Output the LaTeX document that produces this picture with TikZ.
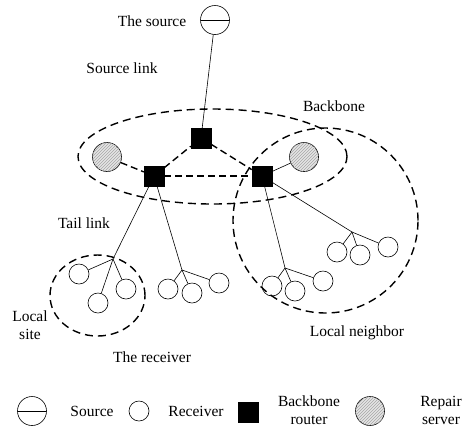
\documentclass[tikz,border=0pt]{standalone}
\usepackage{fontspec}
\setmainfont{Liberation Serif}
\usetikzlibrary{patterns}
\begin{document}
\begin{tikzpicture}[x=1pt,y=-1pt,
  every node/.style={font=\fontsize{15.5}{18}\selectfont},
  recv/.style={draw,circle,inner sep=0,minimum size=20pt,line width=0.6pt},
  srcnode/.style={draw,circle,inner sep=0,minimum size=29pt,line width=0.6pt,
    path picture={\draw[line width=0.6pt] (path picture bounding box.west) -- (path picture bounding box.east);}},
  router/.style={fill=black,draw=black,inner sep=0,minimum size=20pt},
  repair/.style={draw,circle,inner sep=0,minimum size=29pt,line width=0.6pt,fill=gray!20,
    postaction={pattern=north east lines,pattern color=gray!70}},
  link/.style={line width=0.6pt},
  bblink/.style={line width=1.4pt,dash pattern=on 7pt off 4pt},
  region/.style={line width=1.4pt,dash pattern=on 8pt off 5pt},
  lbl/.style={inner sep=0,align=center}]
\useasboundingbox (0,0) rectangle (470,432);

% nodes
\node[srcnode] (src) at (215,20) {};
\node[router] (r1) at (201,138) {};
\node[router] (r2) at (154,176) {};
\node[router] (r3) at (262,176) {};
\node[repair] (pl) at (107,157) {};
\node[repair] (pr) at (304,157) {};

% hubs
\coordinate (hA) at (113,259);
\coordinate (hB) at (182,270);
\coordinate (hC) at (285,268);
\coordinate (hD) at (352,232);

\node[recv] (a1) at (79,274) {};
\node[recv] (a2) at (98,303) {};
\node[recv] (a3) at (126,289) {};
\node[recv] (b1) at (168,289) {};
\node[recv] (b2) at (192,293) {};
\node[recv] (b3) at (219,283) {};
\node[recv] (c1) at (272,286) {};
\node[recv] (c2) at (295,291) {};
\node[recv] (c3) at (323,281) {};
\node[recv] (d1) at (337,252) {};
\node[recv] (d2) at (360,255) {};
\node[recv] (d3) at (388,247) {};

% regions
\draw[region] (212.5,156.5) ellipse [x radius=134.5pt, y radius=47.5pt];
\draw[region] (325.5,220.5) ellipse [x radius=92.5pt, y radius=92.5pt];
\draw[region] (97.5,295.5) ellipse [x radius=47.5pt, y radius=40.5pt];

% links
\draw[link] (src) -- (r1);
\draw[bblink] (pl) -- (r2);
\draw[bblink] (r2) -- (r1);
\draw[bblink] (r1) -- (r3);
\draw[bblink] (r2) -- (r3);
\draw[link] (r3) -- (pr);

\draw[link] (r2) -- (hA);
\draw[link] (r2) -- (hB);
\draw[link] (r3) -- (hC);
\draw[link] (r3) -- (hD);
\foreach \h/\c in {hA/a1,hA/a2,hA/a3,hB/b1,hB/b2,hB/b3,hC/c1,hC/c2,hC/c3,hD/d1,hD/d2,hD/d3}
  \draw[link] (\h) -- (\c);

% labels
\node[lbl] (tsrc) at (152,21) {The source};
\node[lbl] (tsl) at (122,68) {Source link};
\node[lbl] (tbb) at (334,106) {Backbone};
\node[lbl] (ttl) at (84,223) {Tail link};
\node[lbl] (tls) at (30,325) {Local\\site};
\node[lbl] (trc) at (152,357) {The receiver};
\node[lbl] (tln) at (357,333) {Local neighbor};

% legend
\node[srcnode] (lsrc) at (32,411) {};
\node[lbl] (lsrct) at (92,411) {Source};
\node[recv] (lrcv) at (139,411) {};
\node[lbl] (lrcvt) at (196,411) {Receiver};
\node[router] (lrt) at (248,412) {};
\node[lbl] (lrtt) at (309,410) {Backbone\\router};
\node[repair] (lrp) at (370,411) {};
\node[lbl] (lrpt) at (441,410) {Repair\\server};
\end{tikzpicture}
\end{document}
